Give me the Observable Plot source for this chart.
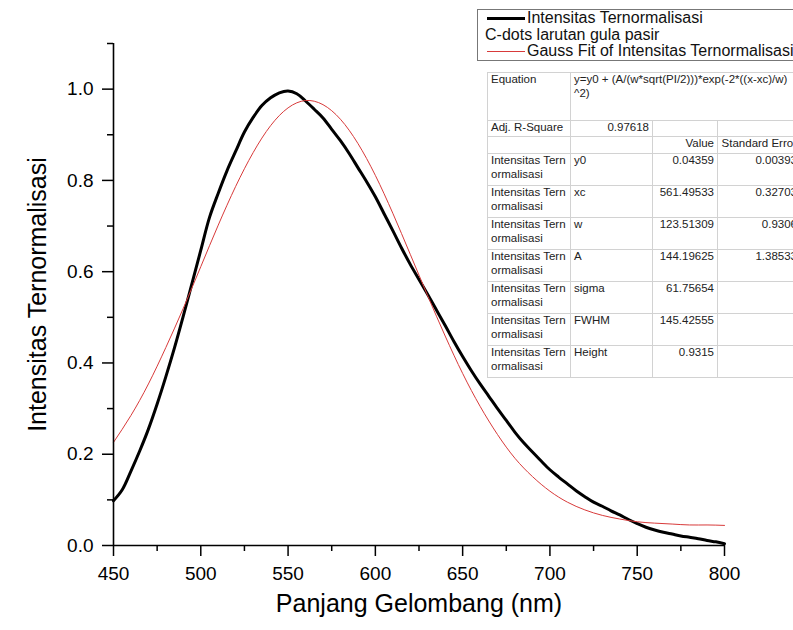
<!DOCTYPE html>
<html><head><meta charset="utf-8">
<script src="https://cdn.jsdelivr.net/npm/d3@7"></script>
<script src="https://cdn.jsdelivr.net/npm/@observablehq/plot@0.6"></script>
<style>
body{margin:0;background:#fff;}
#wrap{position:relative;width:793px;height:630px;overflow:hidden;font-family:"Liberation Sans",Arial,sans-serif;background:#fff;}
#legend{position:absolute;left:477px;top:9px;width:340px;height:50px;border:1px solid #777;background:#fff;font-size:16px;color:#111;padding-top:0;}
#legend .row{height:16.5px;line-height:16.5px;white-space:nowrap;}
#legend .sw{display:inline-block;width:38px;vertical-align:middle;margin-left:9px;margin-right:2px;}
#tbl{position:absolute;left:487px;top:72px;border-collapse:collapse;table-layout:fixed;width:313px;background:#fff;font-size:11.5px;color:#222;border:1px solid #9a9a9a;}
#tbl td{border:1px solid #d2d2d2;padding:0 3px;vertical-align:top;line-height:13.5px;white-space:nowrap;overflow:hidden;}
#tbl td.r{text-align:right;}
</style>
</head><body>
<div id="wrap"></div>
<script>
// ---- data ----
const wavelength = [450,455,460,465,470,475,480,485,490,495,500,505,510,515,520,525,530,535,540,545,550,555,560,565,570,575,580,585,590,595,600,605,610,615,620,625,630,635,640,645,650,655,660,665,670,675,680,685,690,695,700,705,710,715,720,725,730,735,740,745,750,755,760,765,770,775,780,785,790,795,800];
const intensity = [0.098,0.122,0.163,0.207,0.255,0.310,0.370,0.434,0.503,0.575,0.647,0.719,0.772,0.821,0.864,0.906,0.938,0.964,0.981,0.992,0.996,0.990,0.974,0.956,0.937,0.912,0.887,0.859,0.828,0.797,0.764,0.727,0.690,0.652,0.616,0.583,0.550,0.516,0.482,0.447,0.414,0.383,0.354,0.327,0.300,0.274,0.248,0.225,0.205,0.185,0.166,0.150,0.135,0.120,0.107,0.095,0.086,0.076,0.067,0.057,0.048,0.040,0.034,0.029,0.025,0.021,0.018,0.015,0.011,0.008,0.004];
const fitWavelength = [450,460,470,480,490,500,510,520,530,540,550,560,570,580,590,600,610,620,630,640,650,660,670,680,690,700,710,720,730,740,750,760,770,780,790,800];
const fitIntensity = [0.226,0.285,0.354,0.434,0.520,0.611,0.702,0.787,0.861,0.920,0.959,0.975,0.966,0.934,0.881,0.811,0.728,0.638,0.547,0.459,0.377,0.305,0.243,0.191,0.151,0.119,0.095,0.078,0.066,0.058,0.052,0.049,0.047,0.045,0.045,0.044];
const xMajor = [450,500,550,600,650,700,750,800];
const xMinor = [475,525,575,625,675,725,775];
const yMajor = [0,0.2,0.4,0.6,0.8,1.0];
const yMinor = [0.1,0.3,0.5,0.7,0.9,1.1];
const xLabel = "Panjang Gelombang (nm)";
const yLabel = "Intensitas Ternormalisasi";
const legendLabels = ["Intensitas Ternormalisasi","C-dots larutan gula pasir","Gauss Fit of Intensitas Ternormalisasi"];
const equationText = ["y=y0 + (A/(w*sqrt(PI/2)))*exp(-2*((x-xc)/w)","^2)"];
const adjR2 = "0.97618";
const seriesName = ["Intensitas Tern","ormalisasi"];
const paramNames = ["y0","xc","w","A","sigma","FWHM","Height"];
const paramValues = ["0.04359","561.49533","123.51309","144.19625","61.75654","145.42555","0.9315"];
const paramErrors = ["0.00393","0.32703","0.9306","1.38533","","",""];

// ---- chart ----
const chart = Plot.plot({
  width: 793, height: 630,
  marginLeft: 113, marginRight: 69, marginTop: 43, marginBottom: 85,
  style: {fontFamily: "Liberation Sans, Arial, sans-serif", fontSize: "19px", color: "#000", background: "#fff"},
  x: {domain: [450, 800]},
  y: {domain: [0, 1.1]},
  marks: [
    Plot.line(wavelength, {x: wavelength, y: intensity, stroke: "#000", strokeWidth: 3, curve: "catmull-rom"}),
    Plot.line(fitWavelength, {x: fitWavelength, y: fitIntensity, stroke: "#d83a3a", strokeWidth: 1, curve: "natural"}),
    Plot.ruleX([450], {strokeWidth: 1.6}),
    Plot.ruleY([0], {strokeWidth: 1.6}),
    Plot.axisX(xMajor, {tickSize: 11, tickPadding: 10, strokeWidth: 1.5, label: null, tickFormat: d => String(d)}),
    Plot.axisX(xMinor, {tickSize: 6, strokeWidth: 1.5, label: null, tickFormat: () => ""}),
    Plot.axisY(yMajor, {tickSize: 11, tickPadding: 9, strokeWidth: 1.5, label: null, tickFormat: d3.format(".1f")}),
    Plot.axisY(yMinor, {tickSize: 6, strokeWidth: 1.5, label: null, tickFormat: () => ""}),
    Plot.text([xLabel], {text: d => d, frameAnchor: "bottom", textAnchor: "middle", dy: 66, fontSize: 25}),
    Plot.text([yLabel], {text: d => d, frameAnchor: "left", textAnchor: "middle", dx: -76, rotate: -90, fontSize: 25})
  ]
});
const wrap = document.getElementById("wrap");
wrap.appendChild(chart);

// ---- legend ----
const legend = document.createElement("div");
legend.id = "legend";
const swatches = [{h: 3, c: "#000"}, null, {h: 1, c: "#d83a3a"}];
legendLabels.forEach((t, i) => {
  const row = document.createElement("div");
  row.className = "row";
  if (swatches[i]) {
    const s = document.createElement("span");
    s.className = "sw";
    s.style.height = swatches[i].h + "px";
    s.style.background = swatches[i].c;
    row.appendChild(s);
  } else {
    row.style.paddingLeft = "7px";
  }
  row.appendChild(document.createTextNode(t));
  legend.appendChild(row);
});
wrap.appendChild(legend);

// ---- fit table ----
const tbl = document.createElement("table");
tbl.id = "tbl";
const cg = document.createElement("colgroup");
[83, 82, 65, 83].forEach(w => { const c = document.createElement("col"); c.style.width = w + "px"; cg.appendChild(c); });
tbl.appendChild(cg);
function addRow(h, cells) {
  const tr = document.createElement("tr");
  cells.forEach(c => {
    const td = document.createElement("td");
    td.style.height = h + "px";
    if (c.right) td.className = "r";
    if (c.span) td.colSpan = c.span;
    (c.lines || [c.text || ""]).forEach((l, k) => {
      if (k) td.appendChild(document.createElement("br"));
      td.appendChild(document.createTextNode(l));
    });
    tr.appendChild(td);
  });
  tbl.appendChild(tr);
}
addRow(47, [{text: "Equation"}, {lines: equationText, span: 3}]);
addRow(15, [{text: "Adj. R-Square"}, {text: adjR2, right: true}, {}, {}]);
addRow(16, [{}, {}, {text: "Value", right: true}, {text: "Standard Error", right: true}]);
paramNames.forEach((p, i) => {
  addRow(31, [{lines: seriesName}, {text: p}, {text: paramValues[i], right: true}, {text: paramErrors[i], right: true}]);
});
wrap.appendChild(tbl);
</script>
</body></html>
